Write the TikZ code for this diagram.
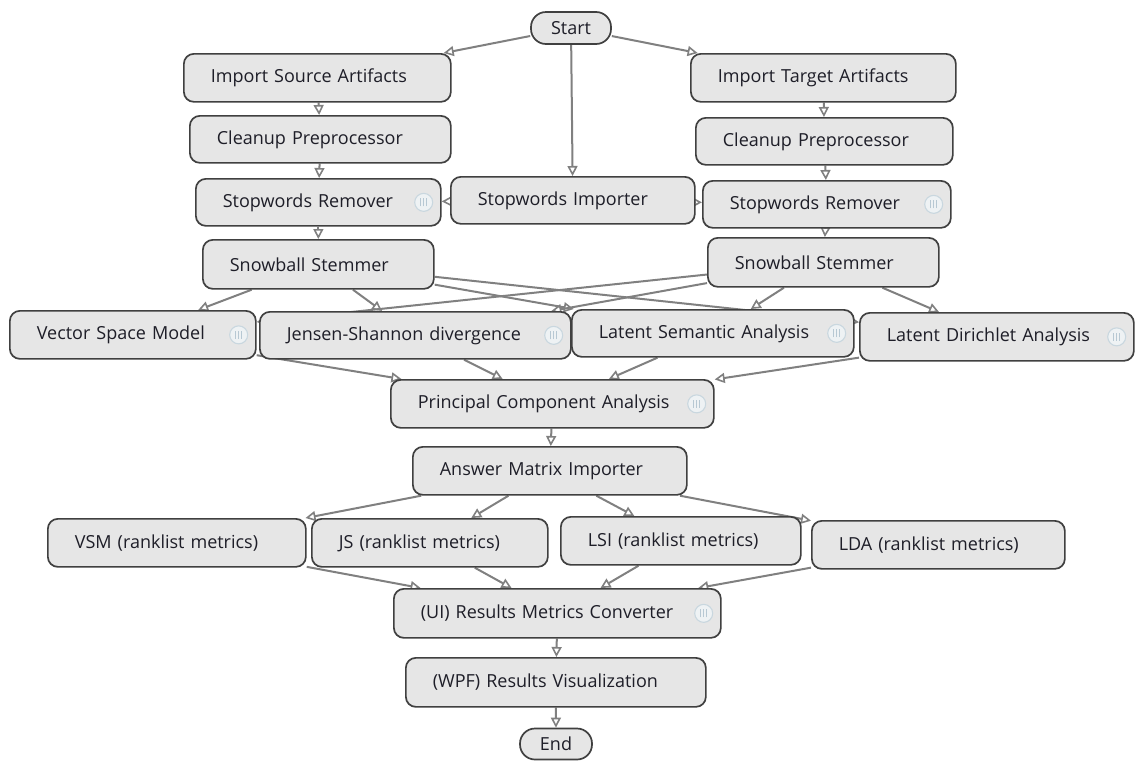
\documentclass[tikz,border=0pt]{standalone}
\usepackage{fontspec}
\setmainfont{Open Sans}
\usetikzlibrary{arrows.meta}
\pgfdeclarelayer{background}
\pgfsetlayers{background,main}
\definecolor{boxfill}{HTML}{E6E6E6}
\definecolor{boxline}{HTML}{404040}
\definecolor{edgecol}{HTML}{808080}
\definecolor{txtcol}{HTML}{1E1E28}
\definecolor{iconline}{HTML}{C9D7DF}
\definecolor{iconfill}{HTML}{EEF2F4}
\definecolor{iconbar}{HTML}{B7C8D3}
\tikzset{
  box/.style 2 args={draw=boxline, fill=boxfill, line width=1.7pt, rounded corners=10pt,
    anchor=north west, minimum height=#2pt, text width=#1pt, align=left,
    inner xsep=27pt, inner ysep=0pt, font=\fontsize{18}{21}\selectfont, text=txtcol},
  term/.style={draw=boxline, fill=boxfill, line width=1.7pt, rounded corners=15pt,
    minimum height=32pt, inner sep=0pt, font=\fontsize{18}{21}\selectfont, text=txtcol},
  conn/.style={draw=edgecol, line width=2pt,
    -{Triangle[open, length=10pt, width=10pt, line width=1.6pt]}},
}
\newcommand\wficon[1]{%
  \path ([xshift=-18pt]#1.east) coordinate (ic-#1);
  \draw[iconline, fill=iconfill, line width=1.1pt] (ic-#1) circle (9pt);
  \foreach \dx in {-3,0,3}{
    \draw[iconbar, line width=1.2pt] ([xshift=\dx pt, yshift=-4pt]ic-#1) -- ([xshift=\dx pt, yshift=4pt]ic-#1);
  }%
}
\begin{document}
\begin{tikzpicture}[x=1pt, y=-1pt]
\useasboundingbox (0,0) rectangle (1135,761);
\begin{pgfonlayer}{background}
  \fill[white] (0,0) rectangle (1135,761);
\end{pgfonlayer}

% nodes
\node[term, minimum width=80pt] (start) at (571,28) {Start};
\node[box={213}{48}] (isa) at (183,53) {Import Source Artifacts};
\node[box={211}{48}] (ita) at (690,53) {Import Target Artifacts};
\node[box={207}{47}] (cpl) at (189,115) {Cleanup Preprocessor};
\node[box={203}{47}] (cpr) at (695,117) {Cleanup Preprocessor};
\node[box={191}{47}] (srl) at (195,178) {Stopwords Remover};
\node[box={190}{47}] (swi) at (450,176) {Stopwords Importer};
\node[box={194}{47}] (srr) at (702,180) {Stopwords Remover};
\node[box={177}{49}] (sbl) at (202,239) {Snowball Stemmer};
\node[box={177}{49}] (sbr) at (707,237) {Snowball Stemmer};
\node[box={192}{48}] (vsm) at (9,310) {Vector Space Model};
\node[box={257}{47}] (jsd) at (259,311) {Jensen-Shannon divergence};
\node[box={228}{47}] (lsa) at (571,309) {Latent Semantic Analysis};
\node[box={220}{48}] (lda) at (859,312) {Latent Dirichlet Analysis};
\node[box={269}{48}] (pca) at (390,379) {Principal Component Analysis};
\node[box={220}{48}] (ami) at (412,446) {Answer Matrix Importer};
\node[box={204}{48}] (vsmr) at (47,518) {VSM (ranklist metrics)};
\node[box={182}{48}] (jsr) at (311,518) {JS (ranklist metrics)};
\node[box={186}{48}] (lsir) at (560,516) {LSI (ranklist metrics)};
\node[box={199}{48}] (ldar) at (811,520) {LDA (ranklist metrics)};
\node[box={273}{49}] (ui) at (393,588) {(UI) Results Metrics Converter};
\node[box={246}{49}] (wpf) at (405,657) {(WPF) Results Visualization};
\node[term, minimum width=72pt, minimum height=31pt] (end) at (556,744) {End};

% icons
\wficon{srl}
\wficon{srr}
\wficon{vsm}
\wficon{jsd}
\wficon{lsa}
\wficon{lda}
\wficon{pca}
\wficon{ui}

% connectors (behind the nodes)
\begin{pgfonlayer}{background}
  \draw[conn] (start) -- (isa);
  \draw[conn] (start) -- (ita);
  \draw[conn] (start) -- (swi);
  \draw[conn] (isa) -- (cpl);
  \draw[conn] (cpl) -- (srl);
  \draw[conn] (srl) -- (sbl);
  \draw[conn] (ita) -- (cpr);
  \draw[conn] (cpr) -- (srr);
  \draw[conn] (srr) -- (sbr);
  \draw[conn] (swi) -- (srl);
  \draw[conn] (swi) -- (srr);
  \foreach \t in {vsm,jsd,lsa,lda}{
    \draw[conn] (sbl) -- (\t);
    \draw[conn] (sbr) -- (\t);
    \draw[conn] (\t) -- (pca);
  }
  \draw[conn] (pca) -- (ami);
  \foreach \t in {vsmr,jsr,lsir,ldar}{
    \draw[conn] (ami) -- (\t);
    \draw[conn] (\t) -- (ui);
  }
  \draw[conn] (ui) -- (wpf);
  \draw[conn] (wpf) -- (end);
\end{pgfonlayer}
\end{tikzpicture}
\end{document}
